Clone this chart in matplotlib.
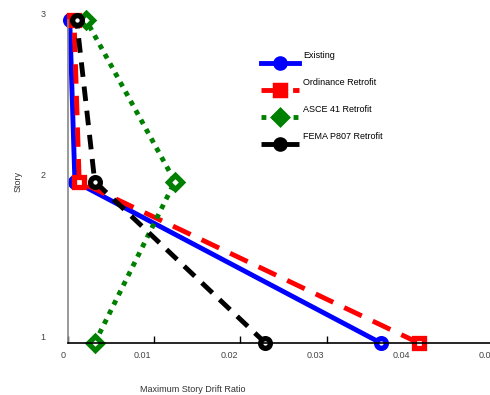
import matplotlib
matplotlib.use('Agg')
import matplotlib.pyplot as plt
from matplotlib.transforms import ScaledTranslation

plt.rcParams['font.family'] = ['Liberation Sans', 'DejaVu Sans']

story = [1, 2, 3]
existing = [0.0363, 0.0008, 0.0002]
ordinance = [0.0407, 0.0013, 0.0007]
asce41 = [0.0031, 0.0124, 0.0021]
fema = [0.0229, 0.0031, 0.0010]

xticks = [0, 0.01, 0.02, 0.03, 0.04, 0.05]
xticklabels = ['0', '0.01', '0.02', '0.03', '0.04', '0.05']
yticks = [1, 2, 3]
colors = ['blue', 'red', 'green', 'black']

fig = plt.figure(figsize=(4.9, 3.95), dpi=100)
ax = fig.add_axes([0.1388, 0.1316, 0.8796, 0.8177])

mk = dict(markersize=7, markeredgewidth=3.8, markerfacecolor='white', clip_on=False)
ax.plot(existing, story, '-', color=colors[0], lw=3.5, marker='o',
        markeredgecolor=colors[0], label='Existing', **mk)
ax.plot(ordinance, story, '--', color=colors[1], lw=3.5, marker='s', dashes=(4, 2.5),
        markeredgecolor=colors[1], label='Ordinance Retrofit', **mk)
ax.plot(asce41, story, ':', color=colors[2], lw=3.5, marker='D', dashes=(1, 1.2),
        markeredgecolor=colors[2], label='ASCE 41 Retrofit', **mk)
ax.plot(fema, story, '--', color=colors[3], lw=3.5, marker='o', dashes=(3, 2),
        markeredgecolor=colors[3], label='FEMA P807 Retrofit', **mk)

ax.set_xlim(0, 0.05)
ax.set_ylim(1, 3)
ax.set_xticks(xticks)
ax.set_xticklabels(xticklabels)
ax.set_yticks(yticks)
ax.tick_params(axis='x', direction='in', length=5, width=1, labelsize=6.5,
               labelcolor='#444444', pad=6)
ax.tick_params(axis='y', length=0, labelsize=6.5, labelcolor='#444444', pad=16)
for lab in ax.get_xticklabels():
    lab.set_horizontalalignment('right')
    lab.set_transform(lab.get_transform() + ScaledTranslation(-2 / 72, 0, fig.dpi_scale_trans))
for lab in ax.get_yticklabels():
    lab.set_transform(lab.get_transform() + ScaledTranslation(0, 5 / 72, fig.dpi_scale_trans))

ax.spines['top'].set_visible(False)
ax.spines['right'].set_visible(False)
ax.spines['left'].set_color('#888888')
ax.spines['left'].set_linewidth(1.2)
ax.spines['bottom'].set_linewidth(1.2)

ax.set_xlabel('Maximum Story Drift Ratio', fontsize=6.5, color='#333333')
ax.xaxis.set_label_coords(0.29, -0.13)
ax.set_ylabel('Story', fontsize=6.5, color='#333333')
ax.yaxis.set_label_coords(-0.105, 0.5)

leg = ax.legend(loc='upper left', bbox_to_anchor=(0.43, 0.905), frameon=False, fontsize=6.5,
                handlelength=4.2, labelspacing=2.0, handletextpad=0.4)
for h, c in zip(leg.legend_handles, colors):
    h.set_markerfacecolor(c)
    h.set_markeredgewidth(2.5)
    h.set_markersize(8)
for t in leg.get_texts():
    t.set_transform(t.get_transform() + ScaledTranslation(0, 6 / 72, fig.dpi_scale_trans))

fig.savefig('out.png', dpi=100)
